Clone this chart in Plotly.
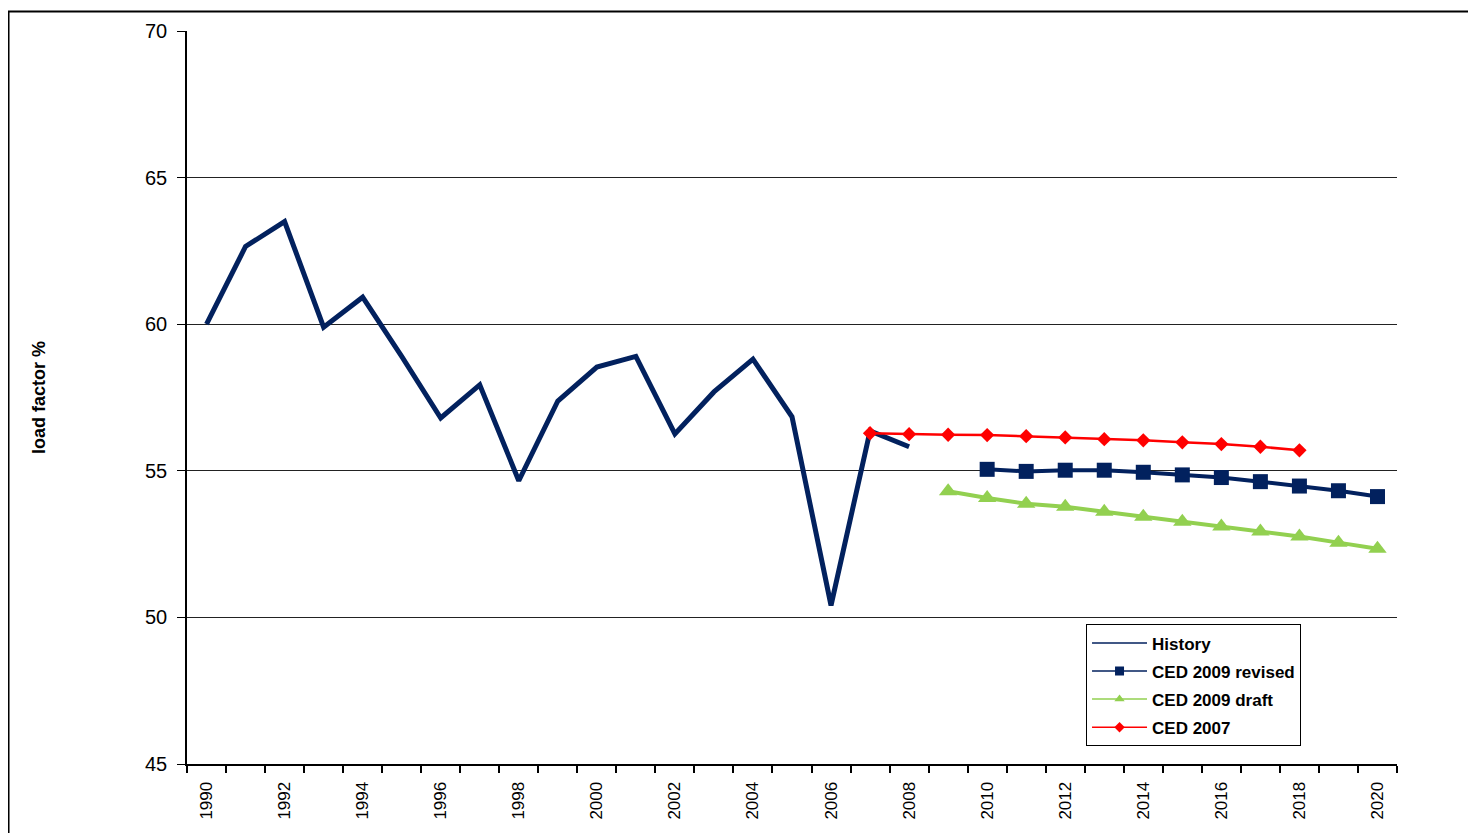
import plotly.graph_objects as go

years = [str(y) for y in range(1990, 2021)]
tick_text = [y if int(y) % 2 == 0 else "" for y in years]

hist_years = [str(y) for y in range(1990, 2009)]
history = [60.0, 62.65, 63.5, 59.9, 60.92, 58.9, 56.8, 57.93, 54.66, 57.38,
           58.54, 58.9, 56.26, 57.69, 58.81, 56.84, 50.41, 56.36, 55.82]

rev_years = [str(y) for y in range(2010, 2021)]
ced2009_revised = [55.05, 54.98, 55.02, 55.02, 54.95, 54.86, 54.77, 54.63, 54.48, 54.32, 54.12]

draft_years = [str(y) for y in range(2009, 2021)]
ced2009_draft = [54.3, 54.07, 53.88, 53.77, 53.6, 53.43, 53.26, 53.1, 52.93, 52.76, 52.55, 52.34]

c07_years = [str(y) for y in range(2007, 2019)]
ced2007 = [56.28, 56.25, 56.23, 56.22, 56.18, 56.14, 56.08, 56.04, 55.97, 55.91, 55.82, 55.7]

navy = "#02215E"
green = "#92D050"
red = "#FF0000"

fig = go.Figure()
fig.add_trace(go.Scatter(x=hist_years, y=history, mode="lines",
                         line=dict(color=navy, width=5), showlegend=False))
fig.add_trace(go.Scatter(x=rev_years, y=ced2009_revised, mode="lines+markers",
                         line=dict(color=navy, width=4), marker=dict(symbol="square", size=15, color=navy),
                         showlegend=False))
fig.add_trace(go.Scatter(x=draft_years, y=ced2009_draft, mode="lines+markers",
                         line=dict(color=green, width=4), marker=dict(symbol="triangle-up", size=16, color=green),
                         showlegend=False))
fig.add_trace(go.Scatter(x=c07_years, y=ced2007, mode="lines+markers",
                         line=dict(color=red, width=2.5), marker=dict(symbol="diamond", size=11, color=red),
                         showlegend=False))

# legend-only entries (thin lines, small markers as in the reference legend)
fig.add_trace(go.Scatter(x=[None], y=[None], mode="lines", name="<b>History</b>", legendgroup="a",
                         line=dict(color=navy, width=1.5)))
fig.add_trace(go.Scatter(x=[None], y=[None], mode="lines+markers", name="<b>CED 2009 revised</b>", legendgroup="b",
                         line=dict(color=navy, width=1.5), marker=dict(symbol="square", size=9, color=navy)))
fig.add_trace(go.Scatter(x=[None], y=[None], mode="lines+markers", name="<b>CED 2009 draft</b>", legendgroup="c",
                         line=dict(color=green, width=1.5), marker=dict(symbol="triangle-up", size=9, color=green)))
fig.add_trace(go.Scatter(x=[None], y=[None], mode="lines+markers", name="<b>CED 2007</b>", legendgroup="d",
                         line=dict(color=red, width=1.5), marker=dict(symbol="diamond", size=8, color=red)))

fig.update_layout(
    width=1476, height=833,
    margin=dict(l=179, r=87, t=20, b=77),
    paper_bgcolor="white", plot_bgcolor="white",
    font=dict(family="Liberation Sans, Arial, sans-serif", color="black"),
    xaxis=dict(type="category", categoryorder="array", categoryarray=years,
               range=[-0.5, 30.5], tickmode="array", tickvals=years, ticktext=tick_text,
               tickson="boundaries", ticks="outside", ticklen=7, tickcolor="black", tickwidth=1.5,
               tickangle=-90, tickfont=dict(size=17), ticklabelstandoff=9, showgrid=False,
               showline=True, linecolor="black", linewidth=2, zeroline=False),
    yaxis=dict(range=[45, 70], tickmode="array", tickvals=[45, 50, 55, 60, 65, 70],
               ticks="outside", ticklen=8, tickcolor="black", tickwidth=1,
               tickfont=dict(size=20), ticklabelstandoff=6, showgrid=True, gridcolor="#222222", gridwidth=1,
               showline=True, linecolor="black", linewidth=1.5, zeroline=False,
               title=dict(text="<b>load factor %</b>", font=dict(size=18), standoff=95)),
    legend=dict(x=0.743, y=0.1905, xanchor="left", yanchor="top",
                bordercolor="black", borderwidth=1, bgcolor="white",
                font=dict(size=17, family="Liberation Sans, Arial, sans-serif"),
                itemwidth=55, traceorder="grouped", tracegroupgap=3),
    shapes=[dict(type="rect", xref="paper", yref="paper",
                 x0=-0.1475, y0=-0.2, x1=1.2, y1=1.0265,
                 line=dict(color="black", width=2), layer="below")],
)

fig.write_html("out.html")
